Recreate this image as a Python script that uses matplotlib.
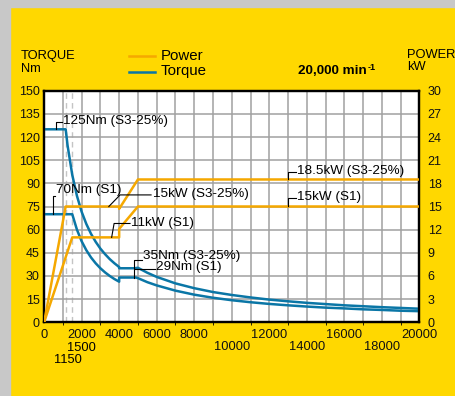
import numpy as np
import matplotlib.pyplot as plt
from matplotlib.patches import Rectangle

plt.rcParams['font.family'] = ['Liberation Sans', 'DejaVu Sans']

### Data
# torque curves, rpm -> Nm
s3_rpm = [0, 1150, 1250, 1500, 1750, 2000, 2250, 2500, 2750, 3000, 3250, 3500, 3750, 4000, 4000,
          4800, 5000, 5500, 6000, 7000, 8000, 9000, 10000, 11000, 12000, 13000, 14000, 15000,
          16000, 17000, 18000, 19000, 20000]
s3_torque = [125, 125, 114.6, 95.5, 81.9, 71.6, 63.7, 57.3, 52.1, 47.7, 44.1, 40.9, 38.2, 35.8, 35,
             35, 35.3, 32.1, 29.4, 25.2, 22.1, 19.6, 17.7, 16.1, 14.7, 13.6, 12.6, 11.8,
             11.0, 10.4, 9.8, 9.3, 8.8]
s1_rpm = [0, 1500, 1750, 2000, 2250, 2500, 2750, 3000, 3250, 3500, 3750, 4000, 4000,
          4900, 5000, 5500, 6000, 7000, 8000, 9000, 10000, 11000, 12000, 13000, 14000, 15000,
          16000, 17000, 18000, 19000, 20000]
s1_torque = [70, 70, 60.0, 52.5, 46.7, 42.0, 38.2, 35.0, 32.3, 30.0, 28.0, 26.3, 29,
             29, 28.6, 26.0, 23.9, 20.5, 17.9, 15.9, 14.3, 13.0, 11.9, 11.0, 10.2, 9.5,
             9.0, 8.4, 8.0, 7.5, 7.2]

# power curves, rpm -> kW
s3_power_rpm = [0, 1150, 4000, 4000, 5000, 20000]
s3_power = [0, 15, 15, 14.7, 18.5, 18.5]
s1_power_rpm = [0, 1500, 4000, 4000, 5000, 20000]
s1_power = [0, 11, 11, 12.1, 15, 15]

torque_ticks = list(range(0, 151, 15))
power_ticks = list(range(0, 31, 3))
rpm_ticks = [0, 2000, 4000, 6000, 8000, 10000, 12000, 14000, 16000, 18000, 20000]
rpm_labels = ['0', '2000', '4000', '6000', '8000', '\n10000', '12000', '\n14000', '16000', '\n18000', '20000']
base_speeds = [1150, 1500]

# labels: text, anchor x, anchor y, corner x, corner y, end x, text x, text y
torque_notes = [
    ('125Nm (S3-25%)', 620, 125, 620, 130, 980, 1020, 130.5),
    ('70Nm (S1)', 490, 70, 490, 82, 600, 615, 86),
    ('35Nm (S3-25%)', 4800, 35, 4800, 40.5, 5200, 5280, 43),
    ('29Nm (S1)', 4800, 29, 4800, 34.5, 5900, 5980, 35.8),
]
power_notes = [
    ('15kW (S3-25%)', 3450, 15, 4050, 16.5, 5700, 5800, 16.6),
    ('11kW (S1)', 3600, 11, 3730, 12.8, 4580, 4650, 12.9),
    ('18.5kW (S3-25%)', 13000, 18.5, 13000, 19.5, 13400, 13500, 19.6),
    ('15kW (S1)', 13000, 15, 13000, 16.1, 13400, 13500, 16.2),
]

orange = '#f5a800'
blue = '#0a76a6'
yellow = '#ffd800'

### Figure
fig = plt.figure(figsize=(4.55, 3.96), dpi=100, facecolor=yellow)
fig.patches.append(Rectangle((0, 0), 10 / 455, 1, transform=fig.transFigure, color='#c8c8c8', zorder=0))
fig.patches.append(Rectangle((0, 1 - 7 / 396), 1, 7 / 396, transform=fig.transFigure, color='#c8c8c8', zorder=0))

ax = fig.add_axes([44.1 / 455, 73.7 / 396, 375.3 / 455, 231.6 / 396])
ax.set_facecolor('white')
ax.set_xlim(0, 20000)
ax.set_ylim(0, 150)
ax.set_yticks(torque_ticks)
ax.set_xticks(rpm_ticks)
ax.set_xticklabels(rpm_labels)
ax.set_xticks(np.arange(1000, 20000, 2000), minor=True)
ax.tick_params(length=0, colors='#111111')
ax.tick_params(axis='x', pad=5, labelsize=9.3)
ax.tick_params(axis='y', pad=3, labelsize=9)
for lbl in ax.get_xticklabels():
    lbl.set_linespacing(1.0)
ax.grid(True, which='both', color='#a0a0a0', lw=1.1)
ax.set_axisbelow(True)
for b in base_speeds:
    ax.axvline(b, color='#c4c4c4', lw=1.0, ls=(0, (4, 3)), zorder=0.5)
for s in ax.spines.values():
    s.set_linewidth(1.6)
    s.set_color('black')

ax.plot(s3_rpm, s3_torque, color=blue, lw=1.8, zorder=3)
ax.plot(s1_rpm, s1_torque, color=blue, lw=1.8, zorder=3)

for txt, x0, y0, x1, y1, x2, tx, ty in torque_notes:
    ax.plot([x0, x1, x2], [y0, y1, y1], color='black', lw=0.8, zorder=4)
    ax.text(tx, ty, txt, fontsize=9.7, va='center', ha='left', zorder=5)

ax2 = ax.twinx()
ax2.set_ylim(0, 30)
ax2.set_yticks(power_ticks)
ax2.tick_params(length=0, labelsize=9, pad=6, colors='#111111')
for s in ax2.spines.values():
    s.set_linewidth(1.6)
ax2.plot(s3_power_rpm, s3_power, color=orange, lw=1.8, zorder=3)
ax2.plot(s1_power_rpm, s1_power, color=orange, lw=1.8, zorder=3)
for txt, x0, y0, x1, y1, x2, tx, ty in power_notes:
    ax2.plot([x0, x1, x2], [y0, y1, y1], color='black', lw=0.8, zorder=4)
    ax2.text(tx, ty, txt, fontsize=9.7, va='center', ha='left', zorder=5)

# staggered base speed labels
ax.annotate('1500', xy=(1500, 0), xycoords=('data', 'axes fraction'), xytext=(9, -26),
            textcoords='offset pixels', ha='center', va='center', fontsize=9.3)
ax.annotate('1150', xy=(1150, 0), xycoords=('data', 'axes fraction'), xytext=(2, -37.5),
            textcoords='offset pixels', ha='center', va='center', fontsize=9.3)

### Header texts
def ftext(x, y, s, **kw):
    fig.text(x / 455, 1 - y / 396, s, **kw)

ftext(20.7, 56, 'TORQUE', fontsize=9.3, va='center')
ftext(20.7, 69.5, 'Nm', fontsize=9.3, va='center')
ftext(407, 55, 'POWER', fontsize=9.3, va='center')
ftext(407, 67, 'kW', fontsize=9.3, va='center')
ftext(366.5, 74.5, '20,000 min', fontsize=9.7, fontweight='bold', ha='right', va='baseline')
ftext(367.5, 69.5, '-1', fontsize=6.5, fontweight='bold', ha='left', va='baseline')

fig.lines.append(plt.Line2D([129 / 455, 155 / 455], [1 - 55.7 / 396] * 2, color=orange, lw=1.8, transform=fig.transFigure))
fig.lines.append(plt.Line2D([129 / 455, 155 / 455], [1 - 72 / 396] * 2, color=blue, lw=1.8, transform=fig.transFigure))
ftext(161, 55.5, 'Power', fontsize=10.8, va='center')
ftext(161, 71, 'Torque', fontsize=10.8, va='center')

fig.savefig('out.png', dpi=100, facecolor=yellow)
